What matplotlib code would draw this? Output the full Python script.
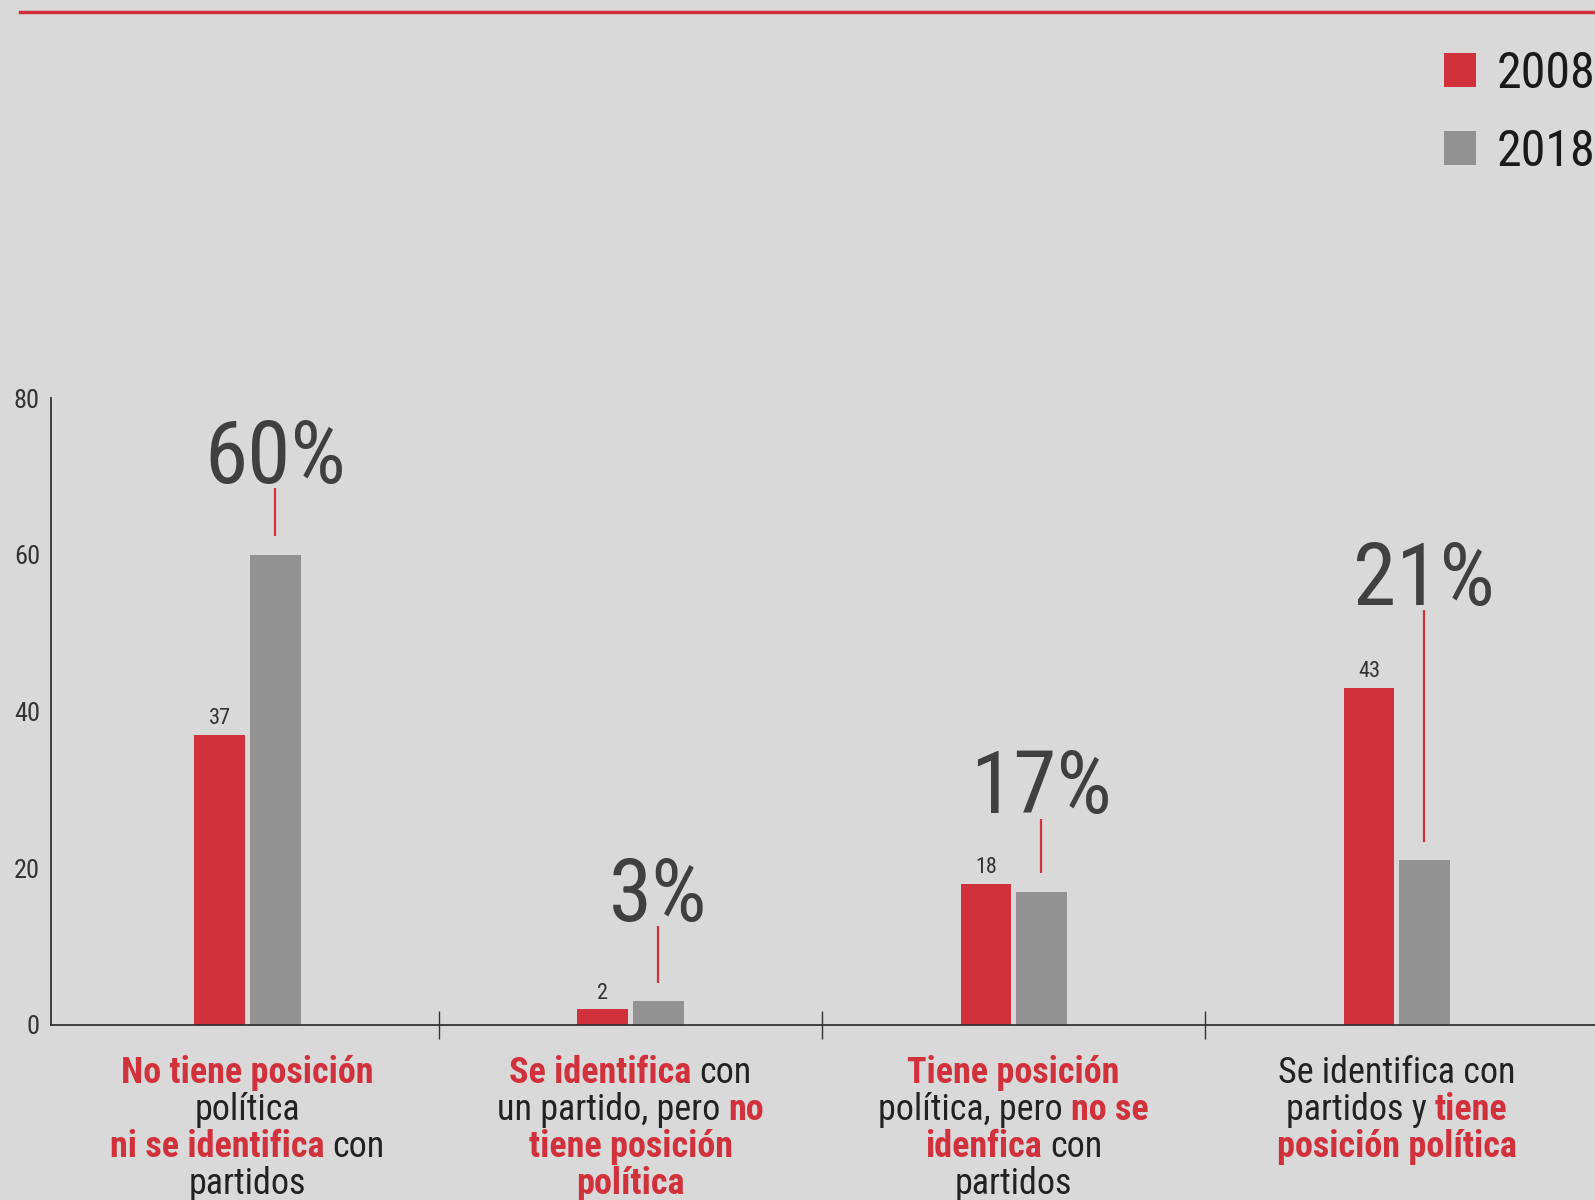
import matplotlib
matplotlib.use("Agg")
import matplotlib.pyplot as plt
import matplotlib.transforms as mtransforms
from matplotlib import font_manager
from matplotlib.lines import Line2D
import numpy as np

# ── Font: prefer a narrow sans, like the original ──────────────────────────────
available = {f.name for f in font_manager.fontManager.ttflist}
if "Liberation Sans Narrow" in available:
    FONT, STRETCH = "Liberation Sans Narrow", "normal"
elif "Roboto Condensed" in available:
    FONT, STRETCH = "Roboto Condensed", "normal"
else:
    FONT, STRETCH = "DejaVu Sans", "condensed"
plt.rcParams["font.family"] = [FONT, "DejaVu Sans"]
plt.rcParams["font.stretch"] = STRETCH

# ── Data ───────────────────────────────────────────────────────────────────────
years = ["2008", "2018"]
values_2008 = [37, 2, 18, 43]
values_2018 = [60, 3, 17, 21]

# category labels: lines of (text, highlighted) segments
category_labels = [
    [[("No tiene posición", True)],
     [("política", False)],
     [("ni se identifica", True), ("con", False)],
     [("partidos", False)]],
    [[("Se identifica", True), ("con", False)],
     [("un partido, pero", False), ("no", True)],
     [("tiene posición", True)],
     [("política", True)]],
    [[("Tiene posición", True)],
     [("política, pero", False), ("no se", True)],
     [("idenfica", True), ("con", False)],
     [("partidos", False)]],
    [[("Se identifica con", False)],
     [("partidos y", False), ("tiene", True)],
     [("posición política", True)]],
]

# ── Style ──────────────────────────────────────────────────────────────────────
RED = "#D1313B"
GRAY = "#929292"
BG = "#D9D9D9"
DARK = "#222222"
BIGTXT = "#404040"

pct_baseline = [69.2, 13.3, 27.0, 53.6]   # where the big % labels sit (data units)
bar_w = 0.133
offset = 0.072

fig = plt.figure(figsize=(15.95, 12), dpi=100, facecolor=BG)
ax = fig.add_axes([51 / 1595, 175 / 1200, 1544 / 1595, 627 / 1200])
ax.set_facecolor(BG)

x = np.arange(len(values_2008))
b1 = ax.bar(x - offset, values_2008, bar_w, color=RED, label=years[0], zorder=2)
b2 = ax.bar(x + offset, values_2018, bar_w, color=GRAY, label=years[1], zorder=2)

ax.set_xlim(-0.513, 3.518)
ax.set_ylim(0, 80)

for spine in ["top", "right"]:
    ax.spines[spine].set_visible(False)
for spine in ["left", "bottom"]:
    ax.spines[spine].set_color("#333333")
    ax.spines[spine].set_linewidth(1.3)

ax.set_yticks([0, 20, 40, 60, 80])
ax.tick_params(axis="y", length=0, pad=8, labelsize=19, labelcolor="#333333")
ax.set_xticks([0.5, 1.5, 2.5])
ax.set_xticklabels([])
ax.tick_params(axis="x", direction="inout", length=20, width=1, color="#333333")

# value labels on the 2008 bars
for xi, v in zip(x, values_2008):
    ax.annotate(str(v), (xi - offset, v), xytext=(0, 4), textcoords="offset points",
                ha="center", va="bottom", fontsize=16, color="#333333")

# big percent labels for 2018 with red leader line
for xi, v, yb in zip(x, values_2018, pct_baseline):
    ax.text(xi + offset, yb, f"{v}%", ha="center", va="baseline",
            fontsize=63, color=BIGTXT)
    ax.vlines(xi + offset, v + 2.4, yb - 0.7, color=RED, lw=1.6)

# legend
ax.legend(handles=[b1, b2], loc="upper right", bbox_to_anchor=(1.0, 1150 / 1200),
          bbox_transform=fig.transFigure, frameon=False, fontsize=36,
          handlelength=0.65, handleheight=0.67, handletextpad=0.4,
          labelspacing=0.6, borderpad=0, borderaxespad=0,
          labelcolor="#1a1a1a")

# top red rule
fig.add_artist(Line2D([20 / 1595, 1.0], [1 - 12 / 1200] * 2, color=RED, lw=2.5,
                      transform=fig.transFigure))

# ── Category labels with mixed styles ──────────────────────────────────────────
fig.canvas.draw()
renderer = fig.canvas.get_renderer()
pix = mtransforms.IdentityTransform()
LABEL_FS = 26


def text_width(s, bold):
    t = fig.text(0, 0, s, fontsize=LABEL_FS, fontweight="bold" if bold else "normal")
    w = t.get_window_extent(renderer).width
    t.remove()
    return w


space_w = text_width("n n", False) - text_width("nn", False)
baselines = [117, 80, 43, 6]

for xi, lines in zip(x, category_labels):
    xc = ax.transData.transform((xi, 0))[0]
    for line, yb in zip(lines, baselines):
        widths = [text_width(s, b) for s, b in line]
        total = sum(widths) + space_w * (len(line) - 1)
        xpos = xc - total / 2
        for (s, b), w in zip(line, widths):
            fig.text(xpos, yb, s, transform=pix, fontsize=LABEL_FS,
                     fontweight="bold" if b else "normal",
                     color=RED if b else DARK, ha="left", va="baseline")
            xpos += w + space_w

fig.savefig("out.png", dpi=100, facecolor=BG)
